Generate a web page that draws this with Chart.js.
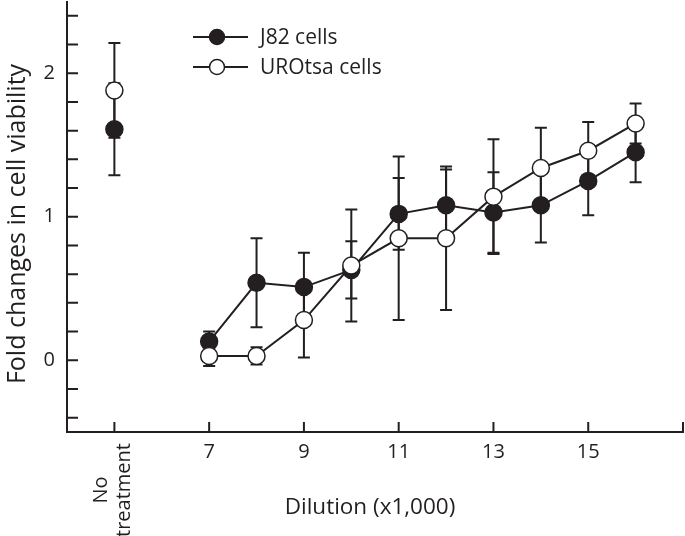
<!DOCTYPE html>
<html>
<head>
<meta charset="utf-8">
<script src="https://cdn.jsdelivr.net/npm/chart.js@4.4.0/dist/chart.umd.min.js"></script>
<style>
  html, body { margin: 0; padding: 0; background: #fff; }
  #wrap { width: 685px; height: 536px; }
</style>
</head>
<body>
<div id="wrap"><canvas id="chart"></canvas></div>
<script>
// --- DATA ---
const dilutions = [7, 8, 9, 10, 11, 12, 13, 14, 15, 16];
const j82Mean = [0.13, 0.54, 0.51, 0.63, 1.02, 1.08, 1.03, 1.08, 1.25, 1.45];
const j82Err = [0.07, 0.31, 0.24, 0.20, 0.25, 0.25, 0.28, 0.26, 0.24, 0.21];
const urotsaMean = [0.03, 0.03, 0.28, 0.66, 0.85, 0.85, 1.14, 1.34, 1.46, 1.65];
const urotsaErr = [0.07, 0.06, 0.26, 0.39, 0.57, 0.50, 0.40, 0.28, 0.20, 0.14];
const noTreatX = 5;
const j82NoTreat = [1.61, 0.32];      // mean, error
const urotsaNoTreat = [1.88, 0.33];
const xTickValues = [5, 7, 9, 11, 13, 15, 17];
const xTickLabels = ['', '7', '9', '11', '13', '15', ''];
const yTickLabels = [0, 1, 2];
const seriesNames = ['J82 cells', 'UROtsa cells'];

const INK = '#231f20';
const FONT = '"Open Sans", "DejaVu Sans", sans-serif';

// points + a null gap so "No treatment" is not joined to the curve
const buildPoints = (nt, means, errs) => [
    { x: noTreatX, y: nt[0], err: nt[1] },
    { x: 6, y: null, err: 0 },
    ...dilutions.map((d, i) => ({ x: d, y: means[i], err: errs[i] }))
];

// --- PLUGINS ---
const errorBars = {
    id: 'errorBars',
    beforeDatasetsDraw(chart) {
        const { ctx, scales: { y } } = chart;
        ctx.save();
        ctx.strokeStyle = INK;
        ctx.lineWidth = 2;
        chart.data.datasets.forEach((ds, di) => {
            const meta = chart.getDatasetMeta(di);
            meta.data.forEach((pt, i) => {
                const raw = ds.data[i];
                if (raw.y == null || !raw.err) return;
                const top = y.getPixelForValue(raw.y + raw.err);
                const bot = y.getPixelForValue(raw.y - raw.err);
                ctx.beginPath();
                ctx.moveTo(pt.x, top); ctx.lineTo(pt.x, bot);
                ctx.moveTo(pt.x - 6, top); ctx.lineTo(pt.x + 6, top);
                ctx.moveTo(pt.x - 6, bot); ctx.lineTo(pt.x + 6, bot);
                ctx.stroke();
            });
        });
        ctx.restore();
    }
};

const decorations = {
    id: 'decorations',
    afterDraw(chart) {
        const { ctx, chartArea: a, scales: { x, y } } = chart;
        ctx.save();
        ctx.strokeStyle = INK;
        ctx.fillStyle = INK;
        ctx.lineWidth = 2;

        // inward tick marks
        ctx.beginPath();
        y.ticks.forEach(t => {
            const py = y.getPixelForValue(t.value);
            ctx.moveTo(a.left, py); ctx.lineTo(a.left + 11, py);
        });
        xTickValues.forEach(v => {
            const px = x.getPixelForValue(v);
            ctx.moveTo(px, a.bottom); ctx.lineTo(px, a.bottom - 10);
        });
        ctx.stroke();

        // axis titles
        ctx.textAlign = 'center';
        ctx.textBaseline = 'alphabetic';
        ctx.font = `22.5px ${FONT}`;
        ctx.fillText('Dilution (x1,000)', 370, 514);

        ctx.save();
        ctx.font = `25px ${FONT}`;
        ctx.translate(25, 224);
        ctx.rotate(-Math.PI / 2);
        ctx.fillText('Fold changes in cell viability', 0, 0);
        ctx.restore();

        // "No treatment" category label
        ctx.font = `20px ${FONT}`;
        const ntx = x.getPixelForValue(noTreatX);
        ctx.save();
        ctx.translate(ntx, 490);
        ctx.rotate(-Math.PI / 2);
        ctx.fillText('No', 0, -7);
        ctx.fillText('treatment', 0, 16);
        ctx.restore();

        // legend
        ctx.font = `21px ${FONT}`;
        ctx.textAlign = 'left';
        ctx.textBaseline = 'middle';
        [37, 67].forEach((ly, i) => {
            ctx.beginPath();
            ctx.moveTo(193, ly); ctx.lineTo(248, ly);
            ctx.stroke();
            ctx.beginPath();
            ctx.arc(217, ly, 7.5, 0, Math.PI * 2);
            ctx.fillStyle = i === 0 ? INK : '#fff';
            ctx.fill();
            ctx.lineWidth = 1.5;
            ctx.stroke();
            ctx.lineWidth = 2;
            ctx.fillStyle = INK;
            ctx.fillText(seriesNames[i], 260, ly + 1);
        });
        ctx.restore();
    }
};

// --- CHART ---
const lineStyle = (fill) => ({
    borderColor: INK,
    borderWidth: 2,
    pointRadius: 8.5,
    pointHoverRadius: 8.5,
    pointBorderWidth: 1.5,
    pointBorderColor: INK,
    pointBackgroundColor: fill,
    spanGaps: false,
    tension: 0,
    clip: false
});

new Chart(document.getElementById('chart'), {
    type: 'line',
    data: {
        datasets: [
            { label: seriesNames[1], data: buildPoints(urotsaNoTreat, urotsaMean, urotsaErr), ...lineStyle('#fff') },
            { label: seriesNames[0], data: buildPoints(j82NoTreat, j82Mean, j82Err), ...lineStyle(INK) }
        ]
    },
    options: {
        responsive: true,
        maintainAspectRatio: false,
        animation: false,
        events: [],
        layout: { autoPadding: false, padding: { top: 1.5, right: 2, left: 0, bottom: 0 } },
        plugins: { legend: { display: false }, tooltip: { enabled: false } },
        scales: {
            x: {
                type: 'linear',
                min: 4,
                max: 17,
                grid: { display: false, drawTicks: false },
                border: { display: true, color: INK, width: 2 },
                afterBuildTicks: s => { s.ticks = xTickValues.map(v => ({ value: v })); },
                afterFit: s => { s.height = 104; s.paddingLeft = 0; s.paddingRight = 0; },
                ticks: {
                    autoSkip: false,
                    maxRotation: 0,
                    padding: 8,
                    color: INK,
                    font: { family: FONT, size: 20 },
                    callback: v => xTickLabels[xTickValues.indexOf(v)] ?? ''
                }
            },
            y: {
                min: -0.5,
                max: 2.5,
                grid: { display: false, drawTicks: false },
                border: { display: true, color: INK, width: 2 },
                afterBuildTicks: s => {
                    s.ticks = Array.from({ length: 15 }, (_, i) => ({ value: Math.round((-0.4 + i * 0.2) * 10) / 10 }));
                },
                afterFit: s => { s.width = 67; s.paddingTop = 0; s.paddingBottom = 0; },
                ticks: {
                    autoSkip: false,
                    padding: 12,
                    color: INK,
                    font: { family: FONT, size: 20 },
                    callback: v => yTickLabels.includes(v) ? String(v) : ''
                }
            }
        }
    },
    plugins: [errorBars, decorations]
});
</script>
</body>
</html>
